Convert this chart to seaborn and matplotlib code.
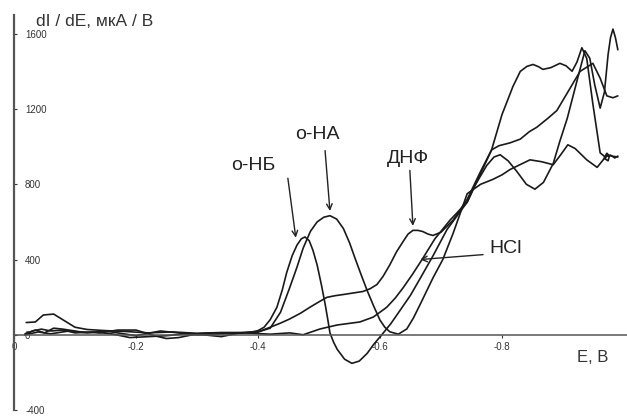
import matplotlib
matplotlib.use("Agg")
import matplotlib.pyplot as plt
import seaborn as sns
import pandas as pd

# --- данные (E в В, dI/dE в мкА/В) ---
nb_E = [-0.018, -0.03, -0.045, -0.06, -0.08, -0.10, -0.13, -0.16, -0.19, -0.22, -0.25, -0.28, -0.31,
        -0.34, -0.37, -0.39, -0.40, -0.41, -0.42, -0.431, -0.44, -0.447, -0.456, -0.464, -0.471, -0.477,
        -0.484, -0.49, -0.497, -0.504, -0.51, -0.514, -0.518, -0.524, -0.53, -0.542, -0.554, -0.566,
        -0.579, -0.59, -0.603, -0.618, -0.633, -0.65, -0.666, -0.687, -0.71, -0.743, -0.755, -0.775,
        -0.787, -0.797, -0.81, -0.824, -0.84, -0.854, -0.868, -0.884, -0.895, -0.907, -0.923, -0.936,
        -0.944, -0.952, -0.961, -0.968, -0.974, -0.978, -0.982, -0.986, -0.99]
nb_I = [0, 20, 30, 20, 25, 10, 15, 5, -15, -10, -5, 5, 0,
        -10, 10, 15, 22, 40, 80, 146, 240, 330, 420, 477, 510, 520,
        500, 450, 371, 265, 165, 90, 10, -40, -78, -130, -152, -140,
        -99, -50, 0, 60, 130, 210, 300, 420, 560, 705, 790, 900,
        945, 957, 925, 870, 800, 774, 810, 910, 1030, 1150, 1350, 1510,
        1470, 1330, 1205, 1290, 1490, 1580, 1625, 1580, 1515]

na_E = [-0.018, -0.035, -0.05, -0.065, -0.08, -0.11, -0.14, -0.17, -0.20, -0.23, -0.25, -0.27, -0.30,
        -0.33, -0.36, -0.39, -0.40, -0.42, -0.437, -0.452, -0.464, -0.474, -0.486, -0.497, -0.508,
        -0.518, -0.529, -0.54, -0.55, -0.559, -0.569, -0.579, -0.59, -0.60, -0.608, -0.616, -0.63,
        -0.644, -0.655, -0.666, -0.687, -0.703, -0.72, -0.743, -0.765, -0.785, -0.80, -0.813, -0.83,
        -0.846, -0.865, -0.884, -0.897, -0.908, -0.92, -0.939, -0.956, -0.966, -0.972, -0.976,
        -0.974, -0.969, -0.972, -0.98, -0.99]
na_I = [5, 25, 10, 35, 30, 15, 10, 25, 25, -5, -20, -15, 5,
        10, 8, 12, 15, 35, 120, 250, 360, 460, 550, 600, 625,
        633, 615, 565, 490, 408, 320, 235, 150, 78, 40, 16, 3,
        31, 90, 162, 303, 400, 540, 750, 800, 826, 850, 878, 905,
        930, 920, 904, 960, 1010, 990, 930, 890, 930, 965, 950,
        925, 935, 955, 950, 945]

dnf_E = [-0.02, -0.035, -0.048, -0.065, -0.08, -0.10, -0.12, -0.15, -0.18, -0.22, -0.26, -0.30, -0.34,
         -0.38, -0.40, -0.42, -0.437, -0.452, -0.47, -0.485, -0.50, -0.513, -0.527, -0.54, -0.556,
         -0.572, -0.584, -0.595, -0.605, -0.616, -0.627, -0.638, -0.646, -0.654, -0.662, -0.67,
         -0.679, -0.687, -0.70, -0.72, -0.743, -0.764, -0.783, -0.80, -0.818, -0.83, -0.841, -0.851,
         -0.86, -0.867, -0.88, -0.895, -0.905, -0.915, -0.923, -0.931, -0.939, -0.949, -0.961,
         -0.969, -0.978, -0.985, -0.99]
dnf_I = [65, 68, 105, 110, 80, 40, 28, 22, 18, 10, 15, 8, 12,
         12, 15, 40, 62, 84, 115, 146, 175, 199, 208, 214, 222,
         230, 245, 267, 310, 371, 440, 496, 535, 555, 555, 549,
         535, 528, 545, 610, 720, 862, 983, 1170, 1320, 1400, 1427, 1437,
         1425, 1411, 1420, 1443, 1430, 1401, 1450, 1526, 1469, 1228, 967,
         946, 955, 940, 950]

hcl_E = [-0.018, -0.04, -0.06, -0.09, -0.12, -0.15, -0.18, -0.20, -0.24, -0.27, -0.30, -0.34, -0.38,
         -0.42, -0.452, -0.474, -0.502, -0.53, -0.567, -0.589, -0.611, -0.625, -0.638, -0.653, -0.669,
         -0.69, -0.715, -0.743, -0.764, -0.783, -0.795, -0.813, -0.83, -0.845, -0.857, -0.875, -0.89,
         -0.907, -0.928, -0.949, -0.961, -0.972, -0.982, -0.99]
hcl_I = [0, 15, 5, 20, 10, 20, 5, -5, 20, 10, 0, 5, 10,
         3, 10, 0, 31, 52, 68, 94, 146, 195, 250, 320, 400,
         510, 610, 705, 850, 983, 1005, 1020, 1040, 1080, 1103, 1150, 1192,
         1285, 1400, 1443, 1364, 1270, 1260, 1270]

x_ticks = [0, -0.2, -0.4, -0.6, -0.8]
x_labels = ["0", "-0.2", "-0.4", "-0.6", "-0.8"]
y_ticks = [-400, 0, 400, 800, 1200, 1600]
y_labels = ["-400", "0", "400", "800", "1200", "1600"]

sns.set_theme(style="white")
plt.rcParams["font.family"] = ["Liberation Sans", "DejaVu Sans"]
plt.rcParams["axes.unicode_minus"] = False

frames = []
for name, e, i in [("о-НБ", nb_E, nb_I), ("о-НА", na_E, na_I), ("ДНФ", dnf_E, dnf_I), ("HCl", hcl_E, hcl_I)]:
    frames.append(pd.DataFrame({"E": e, "I": i, "curve": name}))
df = pd.concat(frames, ignore_index=True)

fig = plt.figure(figsize=(6.27, 4.16), dpi=100)
ax = fig.add_axes([14 / 627, 6 / 416, 613 / 627, 395 / 416])

sns.lineplot(data=df, x="E", y="I", units="curve", estimator=None, sort=False,
             color="#1a1a1a", lw=1.2, ax=ax, legend=False)

ax.set_xlim(0, -1.005)
ax.set_ylim(-400, 1700)
ax.set_xlabel("")
ax.set_ylabel("")

ax.spines["top"].set_visible(False)
ax.spines["right"].set_visible(False)
ax.spines["bottom"].set_position(("data", 0))
ax.spines["bottom"].set_color("#555555")
ax.spines["bottom"].set_linewidth(1.1)
ax.spines["left"].set_color("#555555")
ax.spines["left"].set_linewidth(1.6)

ax.set_xticks(x_ticks, x_labels)
ax.set_yticks(y_ticks, y_labels, ha="left")
ax.tick_params(axis="x", direction="out", length=2, width=0.8, pad=3, labelsize=7,
               colors="#333333", bottom=True)
ax.tick_params(axis="y", direction="in", length=2.5, width=0.8, pad=-8, labelsize=7,
               colors="#333333", left=True)

# подписи осей
fig.text(36 / 627, 1 - 22 / 416, "dI / dE, мкА / В", fontsize=12.5, va="center", ha="left", color="#333333")
fig.text(577 / 627, 1 - 357 / 416, "E, В", fontsize=12, va="center", ha="left", color="#333333")

# подписи кривых со стрелками
arrow = dict(arrowstyle="->", lw=1.0, color="#222222", mutation_scale=10, shrinkA=0, shrinkB=0)
ax.text(-0.393, 900, "о-НБ", fontsize=14, ha="center", va="center", color="#222222")
ax.annotate("", xy=(-0.462, 516), xytext=(-0.449, 832), arrowprops=arrow)
ax.text(-0.498, 1063, "о-НА", fontsize=14, ha="center", va="center", color="#222222")
ax.annotate("", xy=(-0.518, 658), xytext=(-0.510, 979), arrowprops=arrow)
ax.text(-0.646, 937, "ДНФ", fontsize=14, ha="center", va="center", color="#222222")
ax.annotate("", xy=(-0.654, 579), xytext=(-0.649, 874), arrowprops=arrow)
ax.text(-0.780, 458, "HCl", fontsize=14, ha="left", va="center", color="#222222")
ax.annotate("", xy=(-0.666, 400), xytext=(-0.769, 426), arrowprops=arrow)

fig.savefig("out.png", dpi=100)
